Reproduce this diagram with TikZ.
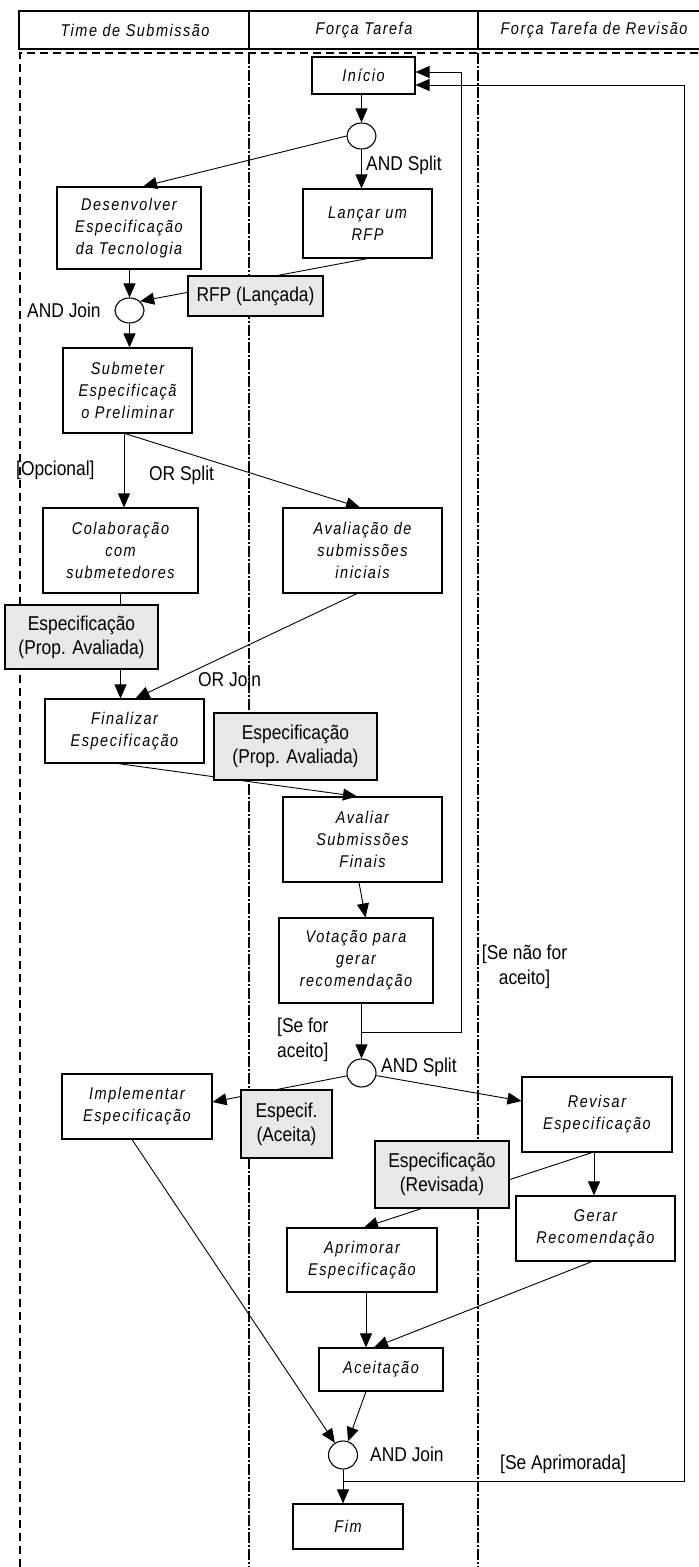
\documentclass[tikz,border=0pt]{standalone}
\usepackage{fontspec}
\usetikzlibrary{arrows.meta,shapes.geometric}
\newfontfamily\boxfont[FakeStretch=0.85,LetterSpace=9]{Liberation Sans}
\newfontfamily\lblfont[FakeStretch=0.87]{Liberation Sans}
\definecolor{dataGray}{HTML}{E8E8E8}
\begin{document}
\begin{tikzpicture}[x=1pt,y=-1pt,
  sz/.style 2 args={minimum width=#1pt, minimum height=#2pt},
  task/.style={draw, line width=1.1pt, fill=white, rectangle, inner sep=0pt, align=center,
    font=\boxfont\itshape\fontsize{17}{22}\selectfont},
  data/.style={draw, line width=1.1pt, fill=dataGray, rectangle, inner sep=0pt, align=center,
    font=\lblfont\fontsize{20}{24}\selectfont},
  gate/.style={draw, line width=1.1pt, fill=white, ellipse, inner sep=0pt, minimum width=29pt, minimum height=26pt},
  lbl/.style={inner sep=0pt, font=\lblfont\fontsize{20}{25}\selectfont},
  head/.style={inner sep=0pt, font=\boxfont\itshape\fontsize{17}{22}\selectfont},
  arr/.style={-{Triangle[length=14pt,width=12pt]}, line width=0.9pt},
  link/.style={line width=0.9pt},
  lane/.style={line width=1.6pt, dash pattern=on 8pt off 5pt},
  lanesep/.style={line width=1.6pt, dash pattern=on 11pt off 2pt on 2pt off 2pt}
]
\useasboundingbox (0,0) rectangle (699,1567);

% header row
\draw[line width=1.2pt] (699,11) -- (19,11) -- (19,49) -- (699,49);
\draw[line width=1.2pt] (249,11) -- (249,49) (478,11) -- (478,49);
\node[head] (h1) at (135,30) {Time de Submissão};
\node[head] (h2) at (364,30) {Força Tarefa};
\node[head] (h3) at (594,30) {Força Tarefa de Revisão};

% swimlanes
\draw[lane] (20,1567) -- (20,53) -- (699,53);
\draw[lanesep] (249,53) -- (249,1567);
\draw[lanesep] (478,53) -- (478,1567);

% activities
\node[task, sz={103}{37}] (inicio) at (363.5,75.5) {Início};
\node[gate] (c1) at (361.5,136) {};
\node[task, sz={144}{82}] (desenv) at (129,228) {Desenvolver\\Especificação\\da Tecnologia};
\node[task, sz={129}{69}] (lancar) at (367.5,223.5) {Lançar um\\RFP};
\node[gate, minimum height=25pt] (join1) at (129.5,310.5) {};
\node[task, sz={129}{85}] (submeter) at (127.5,390.5) {Submeter\\Especificaçã\\o Preliminar};
\node[task, sz={155}{85}] (colab) at (120.5,550.5) {Colaboração\\com\\submetedores};
\node[task, sz={159}{85}] (avalin) at (362.5,550.5) {Avaliação de\\submissões\\iniciais};
\node[task, sz={159}{64}] (finalizar) at (124.5,731) {Finalizar\\Especificação};
\node[task, sz={159}{85}] (avaliar) at (362.5,839.5) {Avaliar\\Submissões\\Finais};
\node[task, sz={154}{85}] (votacao) at (356,960.5) {Votação para\\gerar\\recomendação};
\node[gate, minimum height=28pt] (c2) at (361.5,1073) {};
\node[task, sz={150}{65}] (implementar) at (137,1106.5) {Implementar\\Especificação};
\node[task, sz={150}{75}] (revisar) at (597,1114.5) {Revisar\\Especificação};
\node[task, sz={159}{65}] (gerar) at (595.5,1228.5) {Gerar\\Recomendação};
\node[task, sz={150}{64}] (aprimorar) at (362,1260) {Aprimorar\\Especificação};
\node[task, sz={124}{43}] (aceitacao) at (381,1369.5) {Aceitação};
\node[gate, minimum height=28pt] (join3) at (343,1455) {};
\node[task, sz={110}{45}] (fim) at (348,1526.5) {Fim};

% loop-back corners and split points
\coordinate (sp1) at (361.5,1032);
\coordinate (notB) at (461,72);
\coordinate (sp2) at (343,1481);
\coordinate (aprB) at (684,85);

% flows
\draw[arr] (c1|-inicio.south) -- (c1);
\draw[arr] (c1.west) -- ([xshift=14pt]desenv.north);
\draw[arr] (c1) -- (c1|-lancar.north);
\draw[arr] (join1|-desenv.south) -- (join1);
\draw[arr] (lancar.south) -- (join1.north east);
\draw[arr] (join1) -- (join1|-submeter.north);
\draw[arr] ([xshift=-3.5pt]submeter.south) -- ([xshift=3.5pt]colab.north);
\draw[arr] ([xshift=-2.5pt]submeter.south) -- ([xshift=-2.5pt]avalin.north);
\draw[arr] (colab.south) -- (colab.south|-finalizar.north);
\draw[arr] ([xshift=-5.5pt]avalin.south) -- ([xshift=11pt]finalizar.north);
\draw[arr] ([xshift=-6.5pt]finalizar.south) -- ([xshift=-5.5pt]avaliar.north);
\draw[arr] ([xshift=-3.5pt]avaliar.south) -- ([xshift=3pt]avaliar.south|-votacao.north);
\draw[arr] (c2|-votacao.south) -- (c2);
\draw[arr] (sp1) -| (notB) -- ([yshift=3.5pt]inicio.east);
\draw[arr] (c2) -- ([yshift=4.5pt]implementar.east);
\draw[arr] (c2) -- ([yshift=13.5pt]revisar.west);
\draw[arr] ([xshift=-5pt]revisar.south) -- ([xshift=2pt]aprimorar.north);
\draw[arr] ([xshift=-3pt]revisar.south) -- ([xshift=-3pt]revisar.south|-gerar.north);
\draw[arr] ([xshift=4pt]aprimorar.south) -- ([xshift=4pt]aprimorar.south|-aceitacao.north);
\draw[arr] ([xshift=-3.5pt]gerar.south) -- ([xshift=-7pt]aceitacao.north);
\draw[arr] ([xshift=-15pt]aceitacao.south) -- (join3);
\draw[arr] ([xshift=-5pt]implementar.south) -- (join3);
\draw[arr] (join3) -- (join3|-fim.north);
\draw[arr] (sp2) -| (aprB) -- ([yshift=-9.5pt]inicio.east);

% artefacts on the flows
\node[data, sz={135}{40}] (rfp) at (255.5,296) {RFP (Lançada)};
\node[data, sz={153}{64}] (especL) at (81.5,637) {Especificação\\(Prop. Avaliada)};
\node[data, sz={163}{67}] (especM) at (295.5,746.5) {Especificação\\(Prop. Avaliada)};
\node[data, sz={91}{68}] (aceita) at (286.5,1124) {Especif.\\(Aceita)};
\node[data, sz={134}{67}] (revisada) at (442,1174.5) {Especificação\\(Revisada)};

% guards and gateway labels
\node[lbl, anchor=west] (l1) at (366,165) {AND Split};
\node[lbl, anchor=west] (l2) at (27,310) {AND Join};
\node[lbl, anchor=west] (l3) at (16,470) {[Opcional]};
\node[lbl, anchor=west] (l4) at (149,475) {OR Split};
\node[lbl, anchor=west] (l5) at (198,679) {OR Join};
\node[lbl, anchor=west, align=left] (l6) at (277,1039.5) {[Se for\\aceito]};
\node[lbl, align=center] (l7) at (524.5,966.5) {[Se não for\\aceito]};
\node[lbl, anchor=west] (l8) at (381,1067) {AND Split};
\node[lbl, anchor=west] (l9) at (370,1454) {AND Join};
\node[lbl, anchor=west] (l10) at (500,1464) {[Se Aprimorada]};
\end{tikzpicture}
\end{document}
